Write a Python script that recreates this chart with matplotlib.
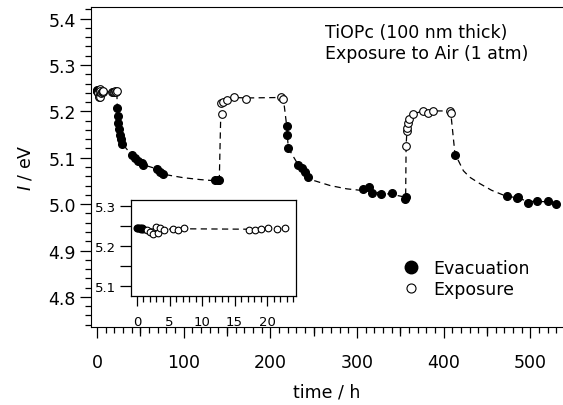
import matplotlib
matplotlib.use('Agg')
import matplotlib.pyplot as plt
from matplotlib.lines import Line2D
from matplotlib.ticker import MultipleLocator, FixedLocator, NullFormatter

plt.rcParams['font.family'] = ['DejaVu Sans']

# first 23 h (also shown in the inset)
evac0_t = [0.0, 0.2, 0.4, 0.6, 0.8, 1.0]
evac0_I = [5.246, 5.244, 5.245, 5.243, 5.244, 5.242]
expo0_t = [1.5, 2.0, 2.5, 3.0, 3.3, 3.6, 4.2, 5.5, 6.3, 7.2,
           17.2, 18.2, 19.1, 20.2, 21.5, 22.8]
expo0_I = [5.240, 5.234, 5.230, 5.248, 5.232, 5.245, 5.240, 5.242, 5.241, 5.244,
           5.241, 5.241, 5.242, 5.244, 5.242, 5.244]

# evacuation runs
evac_t = [23.4, 23.6, 24.6, 25.4, 26.5, 27.3, 29.2,
          40.0, 43.8, 47.6, 51.5, 53.4, 68.8, 72.7, 75.7, 136.0, 139.0, 141.0,
          218.8, 219.2, 220.6, 232.0, 236.0, 240.0, 243.7,
          307.0, 314.0, 317.0, 328.0, 340.0, 355.0, 356.4,
          413.0, 472.5, 484.0, 486.0, 497.5, 507.0, 520.6, 530.0]
evac_I = [5.208, 5.191, 5.175, 5.162, 5.149, 5.140, 5.130,
          5.106, 5.099, 5.094, 5.088, 5.085, 5.076, 5.070, 5.065, 5.051, 5.051, 5.051,
          5.168, 5.150, 5.121, 5.085, 5.079, 5.069, 5.058,
          5.033, 5.038, 5.024, 5.021, 5.023, 5.010, 5.016,
          5.106, 5.017, 5.014, 5.016, 5.003, 5.006, 5.006, 5.001]

# exposure runs
expo_t = [143.8, 143.0, 145.7, 149.6, 158.0, 171.9, 211.8, 214.9,
          356.4, 357.9, 358.0, 358.3, 360.0, 364.0, 376.5, 382.0, 388.0, 407.0, 408.0]
expo_I = [5.195, 5.218, 5.221, 5.225, 5.230, 5.227, 5.232, 5.227,
          5.126, 5.157, 5.165, 5.175, 5.184, 5.194, 5.201, 5.196, 5.201, 5.201, 5.197]

# dashed guide curve
guide_t = [0.0, 7.2, 17.2, 22.8, 23.4, 25.4, 29.2, 40.0, 53.4, 68.8, 75.7, 84.0,
           99.6, 118.8, 132.0, 141.0, 143.0, 150.0, 158.0, 172.0, 212.0, 215.0,
           218.8, 220.6, 232.0, 244.0, 250.0, 269.0, 288.0, 303.0, 320.0, 340.0,
           356.0, 356.5, 358.0, 364.0, 376.0, 407.0, 408.0, 413.0, 416.8, 422.6,
           430.0, 441.8, 455.0, 466.8, 472.5, 484.0, 497.0, 507.0, 520.0, 530.0]
guide_I = [5.244, 5.243, 5.242, 5.243, 5.208, 5.162, 5.130, 5.106, 5.085, 5.076, 5.065, 5.062,
           5.057, 5.053, 5.051, 5.051, 5.218, 5.225, 5.230, 5.229, 5.230, 5.227,
           5.168, 5.121, 5.085, 5.058, 5.051, 5.040, 5.033, 5.030, 5.026, 5.021,
           5.015, 5.126, 5.175, 5.194, 5.201, 5.201, 5.198, 5.106, 5.094, 5.072,
           5.058, 5.044, 5.030, 5.021, 5.017, 5.014, 5.006, 5.006, 5.005, 5.002]

inset_guide_t = [0.0, 1.0, 4.2, 7.2, 17.2, 22.8]
inset_guide_I = [5.244, 5.243, 5.242, 5.243, 5.242, 5.243]

fig = plt.figure(figsize=(5.63, 4.06), dpi=100)
ax = fig.add_axes([0.1616, 0.1921, 0.8384, 0.788])

ax.plot(guide_t, guide_I, color='black', lw=0.9, ls=(0, (5, 3.5)), zorder=1)
ax.plot(evac0_t + evac_t, evac0_I + evac_I, 'o', ms=5.5, mfc='black', mec='black', zorder=3)
ax.plot(expo0_t + expo_t, expo0_I + expo_I, 'o', ms=5.5, mfc='white', mec='black',
        mew=0.8, zorder=4)

ax.set_xlim(-7, 537.5)
ax.set_ylim(4.735, 5.425)
ax.spines['right'].set_visible(False)
ax.xaxis.set_major_locator(MultipleLocator(100))
ax.xaxis.set_minor_locator(MultipleLocator(10))
ax.yaxis.set_major_locator(MultipleLocator(0.1))
ax.yaxis.set_minor_locator(MultipleLocator(0.02))
ax.yaxis.set_major_formatter(matplotlib.ticker.FormatStrFormatter('%.1f'))
ax.tick_params(which='major', direction='out', length=8, width=0.9, labelsize=12.5)
ax.tick_params(which='minor', direction='out', length=4.5, width=0.9)
ax.tick_params(axis='x', which='major', pad=11)
ax.tick_params(axis='y', which='major', pad=3)

# medium ticks every 50 h
mid = ax.secondary_xaxis('bottom')
mid.xaxis.set_major_locator(FixedLocator([50, 150, 250, 350, 450]))
mid.xaxis.set_major_formatter(NullFormatter())
mid.tick_params(direction='out', length=6.5, width=0.9)
mid.spines['bottom'].set_visible(False)

ax.set_xlabel('time / h', fontsize=12.5, labelpad=8)
ax.set_ylabel(r'$I$ / eV', fontsize=12.5, labelpad=10)

ax.text(0.496, 0.95, 'TiOPc (100 nm thick)\nExposure to Air (1 atm)',
        transform=ax.transAxes, ha='left', va='top', fontsize=12.5, linespacing=1.2)

handles = [Line2D([], [], ls='none', marker='o', ms=9, mfc='black', mec='black'),
           Line2D([], [], ls='none', marker='o', ms=6.5, mfc='white', mec='black', mew=0.8)]
ax.legend(handles, ['Evacuation', 'Exposure'], loc='upper left',
          bbox_to_anchor=(0.641, 0.24), frameon=False, fontsize=12.5,
          handlelength=1.0, handletextpad=0.8, labelspacing=0.2, borderpad=0)

# inset: first 23 h
ins = fig.add_axes([0.2327, 0.2685, 0.2931, 0.2364])
ins.plot(inset_guide_t, inset_guide_I, color='black', lw=0.9, ls=(0, (5, 3.5)), zorder=1)
ins.plot(evac0_t, evac0_I, 'o', ms=4.8, mfc='black', mec='black', zorder=3)
ins.plot(expo0_t, expo0_I, 'o', ms=4.8, mfc='white', mec='black', mew=0.8, zorder=4)
ins.set_xlim(-0.92, 24.46)
ins.set_ylim(5.075, 5.315)
ins.xaxis.set_major_locator(MultipleLocator(5))
ins.xaxis.set_minor_locator(MultipleLocator(1))
ins.yaxis.set_major_locator(MultipleLocator(0.1))
ins.yaxis.set_minor_locator(MultipleLocator(0.05))
ins.yaxis.set_major_formatter(matplotlib.ticker.FormatStrFormatter('%.1f'))
ins.tick_params(which='major', direction='out', length=7, width=0.9, labelsize=9.5)
ins.tick_params(which='minor', direction='out', length=4, width=0.9)
ins.tick_params(axis='y', which='both', length=8)
ins.tick_params(axis='x', which='major', pad=7)
ins.tick_params(axis='y', which='major', pad=3)
for s in ins.spines.values():
    s.set_linewidth(0.9)

fig.savefig('out.png', dpi=100)
